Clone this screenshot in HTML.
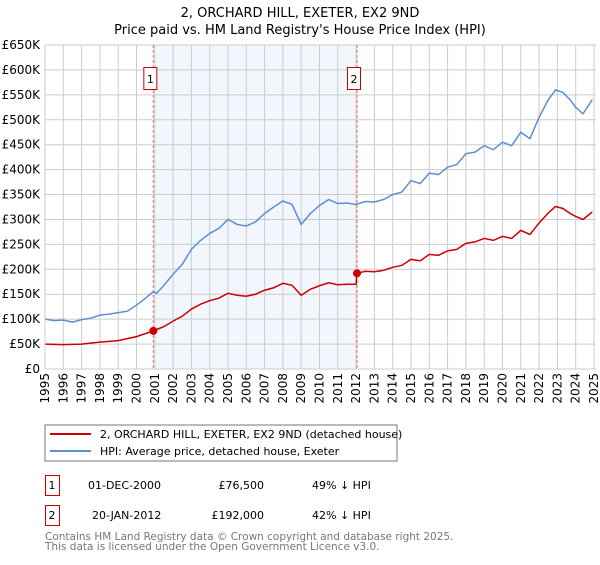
<!DOCTYPE html>
<html><head><meta charset="utf-8"><style>
body{margin:0;background:#fff;font-family:"Liberation Sans","DejaVu Sans",sans-serif;}
svg text{font-family:"DejaVu Sans","Liberation Sans",sans-serif;}
</style></head><body>
<svg id="c" width="600" height="560" xmlns="http://www.w3.org/2000/svg">
<text x="300" y="17" text-anchor="middle" font-size="13" fill="#000">2, ORCHARD HILL, EXETER, EX2 9ND</text>
<text x="300" y="34" text-anchor="middle" font-size="13" fill="#000">Price paid vs. HM Land Registry's House Price Index (HPI)</text>
<g id="plot"></g>
<rect x="45" y="425" width="352" height="36" fill="#fff" stroke="#777"/>
<line x1="50" y1="434" x2="91" y2="434" stroke="#cc0000" stroke-width="2"/>
<text x="100" y="438" font-size="11">2, ORCHARD HILL, EXETER, EX2 9ND (detached house)</text>
<line x1="50" y1="451" x2="91" y2="451" stroke="#5b8fd0" stroke-width="2"/>
<text x="100" y="455" font-size="11">HPI: Average price, detached house, Exeter</text>
<g font-size="11" fill="#000">
<rect x="45.5" y="475.5" width="14" height="20" fill="none" stroke="#cc0000"/>
<text x="52" y="489" text-anchor="middle">1</text>
<text x="88" y="489">01-DEC-2000</text>
<text x="264" y="489" text-anchor="end">£76,500</text>
<text x="312" y="489">49% ↓ HPI</text>
<rect x="45.5" y="505.5" width="14" height="20" fill="none" stroke="#cc0000"/>
<text x="52" y="519" text-anchor="middle">2</text>
<text x="92" y="519">20-JAN-2012</text>
<text x="264" y="519" text-anchor="end">£192,000</text>
<text x="312" y="519">42% ↓ HPI</text>
</g>
<text x="45" y="540" font-size="10.5" fill="#777">Contains HM Land Registry data © Crown copyright and database right 2025.</text>
<text x="45" y="550" font-size="10.5" fill="#777">This data is licensed under the Open Government Licence v3.0.</text>
</svg>
<script>
const yTicks=[0,50,100,150,200,250,300,350,400,450,500,550,600,650];
const yTickLabels=["£0","£50K","£100K","£150K","£200K","£250K","£300K","£350K","£400K","£450K","£500K","£550K","£600K","£650K"];
const years=[1995,1996,1997,1998,1999,2000,2001,2002,2003,2004,2005,2006,2007,2008,2009,2010,2011,2012,2013,2014,2015,2016,2017,2018,2019,2020,2021,2022,2023,2024,2025];
const hpiT=[1995,1995.5,1996,1996.5,1997,1997.5,1998,1998.5,1999,1999.5,2000,2000.5,2000.9,2001.1,2001.5,2002,2002.5,2003,2003.5,2004,2004.5,2005,2005.5,2006,2006.5,2007,2007.5,2008,2008.5,2009,2009.5,2010,2010.5,2011,2011.5,2012,2012.5,2013,2013.5,2014,2014.5,2015,2015.5,2016,2016.5,2017,2017.5,2018,2018.5,2019,2019.5,2020,2020.5,2021,2021.5,2022,2022.5,2022.9,2023.3,2023.7,2024,2024.4,2024.9];
const hpiV=[100,97,98,94,99,102,108,110,113,116,128,142,155,152,168,190,210,240,258,272,282,300,290,287,295,312,325,337,330,290,312,328,340,332,333,330,336,335,340,350,355,378,372,393,390,405,410,432,435,448,440,455,448,475,462,505,540,560,555,540,525,512,540];
const propT=[1995,1996,1997,1998,1999,2000,2000.92,2001.5,2002,2002.5,2003,2003.5,2004,2004.5,2005,2005.5,2006,2006.5,2007,2007.5,2008,2008.5,2009,2009.5,2010,2010.5,2011,2011.5,2012.0,2012.05,2012.5,2013,2013.5,2014,2014.5,2015,2015.5,2016,2016.5,2017,2017.5,2018,2018.5,2019,2019.5,2020,2020.5,2021,2021.5,2022,2022.5,2022.9,2023.3,2023.7,2024,2024.4,2024.9];
const propV=[50,49,50,54,57,65,76.5,85,96,106,120,130,137,142,152,148,146,150,158,163,172,168,148,160,167,173,169,170,170,192,196,195,198,204,208,220,217,230,228,237,240,252,255,262,258,266,262,278,270,293,313,326,322,312,306,300,315];
const saleT=[2000.92,2012.05];
const saleV=[76.5,192];
const saleLabels=["1","2"];
const X0=45,X1=594,Y0=369,Y1=45;
const xs=t=>X0+(t-1995)*(X1-X0)/30;
const ys=v=>Y0-v*(Y0-Y1)/650;
const NS="http://www.w3.org/2000/svg";
const g=document.getElementById('plot');
function mk(tag,attrs){const e=document.createElementNS(NS,tag);for(const k in attrs)e.setAttribute(k,attrs[k]);g.appendChild(e);return e;}
let e=mk('rect',{x:xs(saleT[0]),y:Y1,width:xs(saleT[1])-xs(saleT[0]),height:Y0-Y1,fill:'#f2f6fd'});


yTicks.forEach((v,i)=>{
 let l=mk('line',{x1:X0,x2:X1+2,y1:ys(v),y2:ys(v),stroke:'#ccc','stroke-width':1});
 
 
 let t=mk('text',{x:40,y:ys(v)+4,'text-anchor':'end','font-size':12,fill:'#000'});
 t.textContent=yTickLabels[i];
 
 
});
years.forEach(yr=>{
 let l=mk('line',{x1:xs(yr),x2:xs(yr),y1:Y1,y2:Y0,stroke:'#ccc','stroke-width':1});
 
 
 let t=mk('text',{x:0,y:0,'text-anchor':'end','font-size':12,transform:`translate(${xs(yr)+4},${Y0+4}) rotate(-90)`});
 t.textContent=yr;
 
 
});
saleT.forEach((t,i)=>{
 let l=mk('line',{x1:xs(t),x2:xs(t),y1:Y1,y2:Y0,stroke:'#ee6666','stroke-width':1,'stroke-dasharray':'3,2'});
 
 
 let r=mk('rect',{x:xs(t)-9.5,y:67.5,width:13,height:22,fill:'#fff',stroke:'#cc0000'});
 
 
 let tx=mk('text',{x:xs(t)-3,y:83,'text-anchor':'middle','font-size':11});
 tx.textContent=saleLabels[i];
 
 
});
let p=mk('polyline',{points:hpiT.map((t,i)=>xs(t)+','+ys(hpiV[i])).join(' '),fill:'none',stroke:'#5b8fd0','stroke-width':1.5});


let q=mk('polyline',{points:propT.map((t,i)=>xs(t)+','+ys(propV[i])).join(' '),fill:'none',stroke:'#cc0000','stroke-width':1.5});


saleT.forEach((t,i)=>{
 let c=mk('circle',{cx:xs(t),cy:ys(saleV[i]),r:4,fill:'#cc0000'});
 
 
});
let ax=mk('line',{x1:X0,x2:X0,y1:Y1,y2:Y0,stroke:'#ccc'});


</script>
</body></html>
